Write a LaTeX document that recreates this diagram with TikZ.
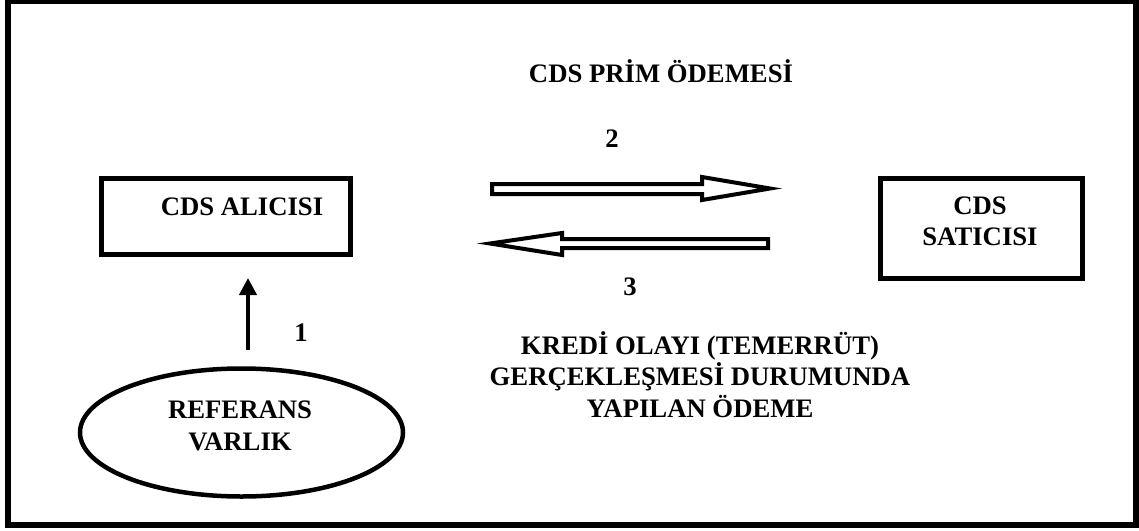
\documentclass[tikz,border=0pt]{standalone}
\usepackage{fontspec}
\setmainfont{Liberation Serif}[BoldFont={Liberation Serif Bold}]
\usetikzlibrary{arrows.meta,shapes.geometric}
\begin{document}
\begin{tikzpicture}[x=1pt,y=-1pt,
  txt/.style={font=\fontsize{26.7}{31}\selectfont\bfseries, inner sep=0pt, anchor=base, align=center},
  boxframe/.style={draw, line width=5pt, inner sep=0pt},
  blockarrow/.style={draw, line width=4pt, line join=miter, fill=white},
  uparrow/.style={line width=4pt, -{Triangle[width=17pt,length=17pt]}}
]
\useasboundingbox (0,0) rectangle (1139,530);
% outer frame
\draw[line width=6pt] (8,1) rectangle (1136,525);

% buyer and seller boxes
\node[boxframe, minimum width=249pt, minimum height=75.5pt] (alici) at (225.75,216.25) {};
\node[txt] (alicit) at (242,215) {CDS ALICISI};
\node[boxframe, minimum width=202pt, minimum height=100.5pt] (satici) at (981,228.25) {};
\node[txt] (saticit) at (980,245) {CDS\\[-0.5pt]SATICISI};

% reference asset
\node[draw, ellipse, line width=4.5pt, minimum width=323pt, minimum height=128pt, inner sep=0pt] (ref) at (241.5,432.5) {};
\node[txt] (reft) at (240,450) {REFERANS\\[1pt]VARLIK};

% arrow 1
\coordinate (u1) at (248,350);
\coordinate (u2) at (248,278);
\draw[uparrow] (u1) -- (u2);
\node[txt] (n1) at (301,341) {1};

% premium payment (arrow 2)
\node[txt] (prim) at (661,82) {CDS PRİM ÖDEMESİ};
\node[txt] (n2) at (612,147) {2};
\draw[blockarrow] (492,184) -- (702,184) -- (702,177) -- (770,188.5)
  -- (702,200) -- (702,194) -- (492,194) -- cycle;

% credit event payment (arrow 3)
\draw[blockarrow] (768,239) -- (562,239) -- (562,233) -- (490,243.5)
  -- (562,255) -- (562,248) -- (768,248) -- cycle;
\node[txt] (n3) at (630,295) {3};
\node[txt] (kredi) at (700,417) {KREDİ OLAYI (TEMERRÜT)\\[0pt]GERÇEKLEŞMESİ DURUMUNDA\\[1pt]YAPILAN ÖDEME};
\end{tikzpicture}
\end{document}
